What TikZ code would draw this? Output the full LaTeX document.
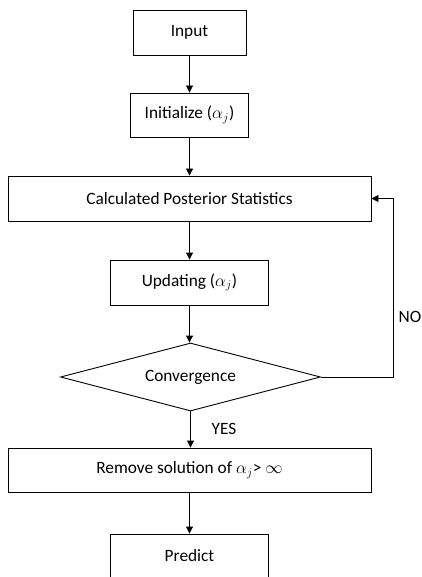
\documentclass[tikz,border=0pt]{standalone}
\usepackage{fontspec}
\setmainfont{Carlito}
\usetikzlibrary{shapes.geometric,arrows.meta,calc}
\begin{document}
\begin{tikzpicture}[x=1pt,y=-1pt,
  txt/.style={font=\fontsize{17.3}{20}\selectfont},
  box/.style={draw, line width=0.9pt, rectangle, inner sep=0pt, txt},
  dia/.style={draw, line width=0.9pt, diamond, aspect=3.82, inner sep=0pt, minimum width=260pt, minimum height=68pt, txt},
  arr/.style={line width=0.9pt, -{Triangle[length=7pt,width=7pt]}},
  lab/.style={txt, inner sep=0pt}]
\useasboundingbox (0,0) rectangle (422,577);
\fill[white] (0,0) rectangle (422,577);
\node[box, minimum width=113pt, minimum height=45pt] (input) at (189.5,32.5) {Input};
\node[box, minimum width=118pt, minimum height=44pt] (init) at (189.5,115) {Initialize ($\alpha_j$)};
\node[box, minimum width=363pt, minimum height=45pt] (calc) at (189.5,198.5) {Calculated Posterior Statistics};
\node[box, minimum width=158pt, minimum height=45pt] (upd) at (189.5,282.5) {Updating ($\alpha_j$)};
\node[dia] (conv) at (190.5,377) {Convergence};
\node[box, minimum width=363pt, minimum height=44pt] (rem) at (189.5,470) {Remove solution of $\alpha_j$> $\infty$};
\node[box, minimum width=158pt, minimum height=44pt] (pred) at (189.5,556) {Predict};
\draw[arr] (input) -- (init);
\draw[arr] (init) -- (calc);
\draw[arr] (calc) -- (upd);
\draw[arr] (upd) -- (upd |- conv.north);
\draw[arr] (conv.north |- conv.south) -- (rem.north -| conv.north);
\draw[arr] (rem) -- (pred);
\coordinate (loopc) at (393,377);
\draw[arr] (conv.east) -- (loopc) |- (calc.east);
\node[lab] (yes) at (224,429) {YES};
\node[lab, anchor=west] (no) at (398.5,317) {NO};
\end{tikzpicture}
\end{document}
